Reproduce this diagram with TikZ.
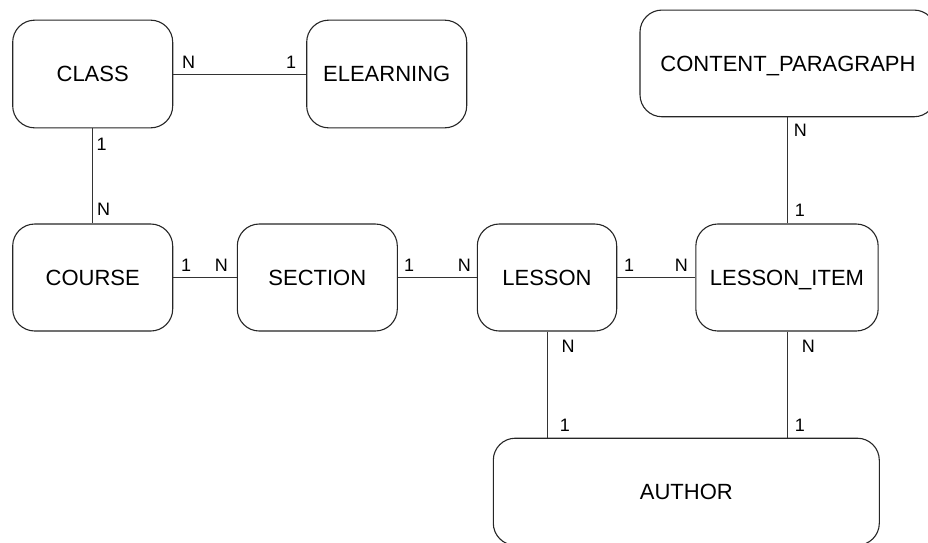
\documentclass[tikz,border=0pt]{standalone}
\usepackage{fontspec}
\setmainfont{Liberation Sans}
\begin{document}
\begin{tikzpicture}[x=1pt,y=-1pt,
  entity/.style={draw=black!85,line width=1.1pt,rounded corners=22pt,
    fill=white,inner sep=0pt,text height=15.7pt,text depth=0pt,
    font=\fontsize{22}{26}\selectfont},
  card/.style={anchor=base west,inner sep=0pt,font=\fontsize{18}{22}\selectfont},
  rel/.style={draw=black!80,line width=0.9pt}]
\useasboundingbox (0,0) rectangle (928,542);
\clip (0,0) rectangle (928,542);

% entities
\node[entity,minimum width=160pt,minimum height=107.7pt] (class) at (92.7,74) {CLASS};
\node[entity,minimum width=160pt,minimum height=107.7pt] (elearning) at (386.7,74) {ELEARNING};
\node[entity,minimum width=296pt,minimum height=106.7pt] (content) at (788,63.4) {CONTENT\_PARAGRAPH};
\node[entity,minimum width=160pt,minimum height=107pt] (course) at (92.7,277.5) {COURSE};
\node[entity,minimum width=160pt,minimum height=107pt] (section) at (317.3,277.5) {SECTION};
\node[entity,minimum width=139.4pt,minimum height=107pt] (lesson) at (547,277.5) {LESSON};
\node[entity,minimum width=182.3pt,minimum height=107pt] (item) at (787,277.5) {LESSON\_ITEM};
\node[entity,minimum width=386pt,minimum height=107pt] (author) at (686.3,491.7) {AUTHOR};

% relationships
\draw[rel] (class.east) -- (elearning.west);
\draw[rel] (class.south) -- (course.north);
\draw[rel] (course.east) -- (section.west);
\draw[rel] (section.east) -- (lesson.west);
\draw[rel] (lesson.east) -- (item.west);
\draw[rel] (item.north) -- (item.north |- content.south);
\draw[rel] (lesson.south) -- (lesson.south |- author.north);
\draw[rel] (item.south) -- (item.south |- author.north);

% cardinalities
\node[card] (c1a) at (182,68) {N};
\node[card] (c1b) at (286,68) {1};
\node[card] (c2a) at (96.3,150.7) {1};
\node[card] (c2b) at (97,215) {N};
\node[card] (c3a) at (181,271) {1};
\node[card] (c3b) at (214.6,271) {N};
\node[card] (c4a) at (404,271) {1};
\node[card] (c4b) at (457.6,271) {N};
\node[card] (c5a) at (624,271) {1};
\node[card] (c5b) at (674.6,271) {N};
\node[card] (c6a) at (793.6,136.7) {N};
\node[card] (c6b) at (794.7,216.7) {1};
\node[card] (c7a) at (561.3,352) {N};
\node[card] (c7b) at (559.7,431.7) {1};
\node[card] (c8a) at (801.6,352) {N};
\node[card] (c8b) at (794.7,431.7) {1};
\end{tikzpicture}
\end{document}
